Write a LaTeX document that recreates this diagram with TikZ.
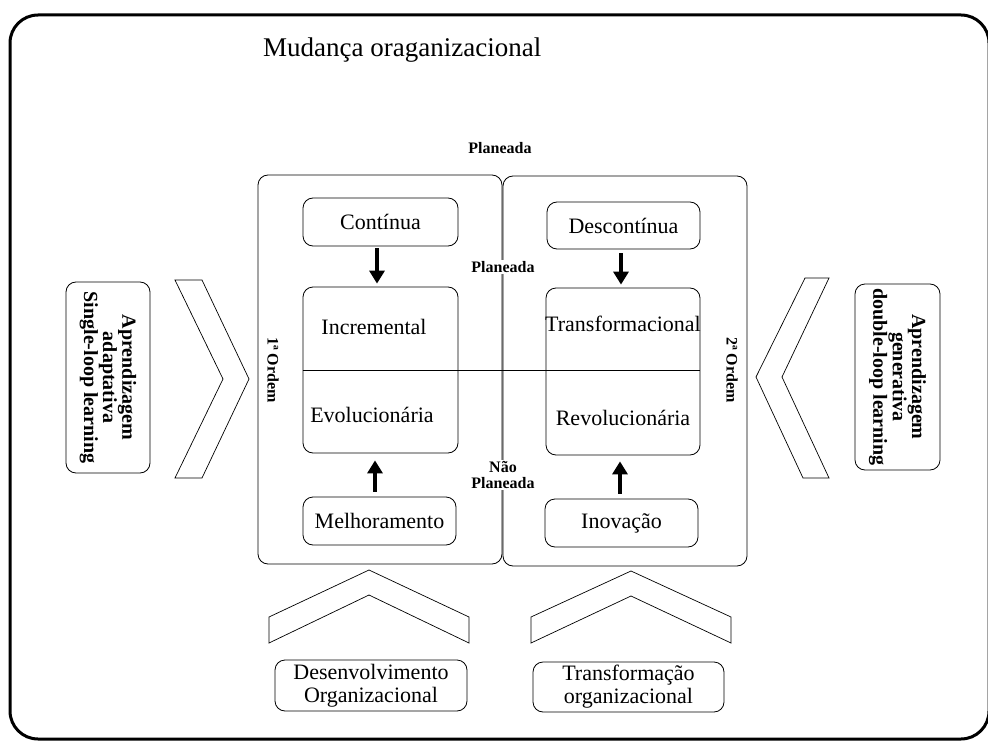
\documentclass[tikz,border=0pt]{standalone}
\usepackage{fontspec}
\setmainfont{Liberation Serif}
\usetikzlibrary{arrows.meta}
\begin{document}
\begin{tikzpicture}[x=1pt,y=-1pt,
  every node/.style={inner sep=2pt},
  framebox/.style={draw, line width=0.8pt, rounded corners=10pt},
  labelbox/.style={framebox, font=\fontsize{22}{23}\selectfont, align=center},
  sidebox/.style={framebox, rotate=-90, align=center, font=\fontsize{20}{17}\selectfont\bfseries},
  smalllabel/.style={font=\fontsize{16}{16}\selectfont\bfseries, align=center},
  biglabel/.style={font=\fontsize{22}{23}\selectfont},
  flow/.style={line width=4pt, -{Triangle[width=15pt,length=13pt]}},
  chevron/.style={draw, line width=0.7pt, line join=miter}
]
\useasboundingbox (0,0) rectangle (988,741);
\clip (0,0) rectangle (988,741);

% outer frame
\draw[line width=3pt, rounded corners=28pt] (10,15) rectangle (989,739);

% title
\node[anchor=west, font=\fontsize{27}{30}\selectfont] (title) at (261,50) {Mudança oraganizacional};

% the two halves
\node[framebox, minimum width=244, minimum height=389] (lbox) at (380,369.5) {};
\node[framebox, minimum width=244, minimum height=390] (rbox) at (625,371) {};

\node[smalllabel] (plantop) at (500,148) {Planeada};
\node[smalllabel, fill=white, inner sep=1pt] (planmid) at (503,267) {Planeada};
\node[smalllabel, fill=white, inner sep=1pt] (naoplan) at (503,475) {Não\\Planeada};

\node[smalllabel, rotate=-90] (ord1) at (273,370) {1ª Ordem};
\node[smalllabel, rotate=-90] (ord2) at (732,370) {2ª Ordem};

% first order column
\node[labelbox, minimum width=155, minimum height=48] (cont) at (380.5,222) {Contínua};
\node[framebox, minimum width=155, minimum height=166] (incbox) at (380.5,370) {};
\node[biglabel] (incr) at (374,327) {Incremental};
\node[biglabel] (evol) at (372,415) {Evolucionária};
\node[labelbox, minimum width=153, minimum height=48] (melh) at (379.5,521) {Melhoramento};

% second order column
\node[labelbox, minimum width=153, minimum height=47] (desc) at (623.5,225.5) {Descontínua};
\node[framebox, minimum width=154, minimum height=167] (trbox) at (623,371.5) {};
\node[biglabel] (transf) at (623,324) {Transformacional};
\node[biglabel] (revol) at (623,418) {Revolucionária};
\node[labelbox, minimum width=153, minimum height=48] (inov) at (621.5,523) {Inovação};

% planned / unplanned divider
\draw[line width=0.7pt] (incbox.west) -- (incbox.west -| trbox.east);

% arrows
\draw[flow, shorten <=2pt, shorten >=3pt] ([xshift=-3.5pt]cont.south) -- ([xshift=-3.5pt]cont.south |- incbox.north);
\draw[flow, shorten <=4pt, shorten >=3pt] ([xshift=-2.5pt]desc.south) -- ([xshift=-2.5pt]desc.south |- trbox.north);
\draw[flow, shorten <=5pt, shorten >=7pt] ([xshift=-4.5pt]melh.north) -- ([xshift=-4.5pt]melh.north |- incbox.south);
\draw[flow, shorten <=5pt, shorten >=6pt] ([xshift=-1.5pt]inov.north) -- ([xshift=-1.5pt]inov.north |- trbox.south);

% side chevrons
\draw[chevron] (175,280) -- (202,280) -- (249,379) -- (202,478) -- (175,478) -- (223,379) -- cycle;
\draw[chevron] (829,278) -- (805,278) -- (756,377) -- (803,478) -- (829,478) -- (782,377) -- cycle;

% bottom chevrons
\draw[chevron] (269,617) -- (369,570) -- (469,617) -- (469,643) -- (369,595) -- (269,643) -- cycle;
\draw[chevron] (531,617) -- (631,571) -- (731,617) -- (731,643) -- (631,596) -- (531,643) -- cycle;

% learning types
\node[sidebox, minimum width=191, minimum height=84] (single) at (108,377.5) {Aprendizagem\\adaptativa\\Single-loop learning};
\node[sidebox, minimum width=186, minimum height=85] (double) at (897.5,377) {Aprendizagem\\generativa\\double-loop learning};

% bottom boxes
\node[labelbox, minimum width=192, minimum height=51] (desenv) at (371,685.5) {Desenvolvimento\\Organizacional};
\node[labelbox, minimum width=191, minimum height=50] (trorg) at (628.5,687) {Transformação\\organizacional};
\end{tikzpicture}
\end{document}
